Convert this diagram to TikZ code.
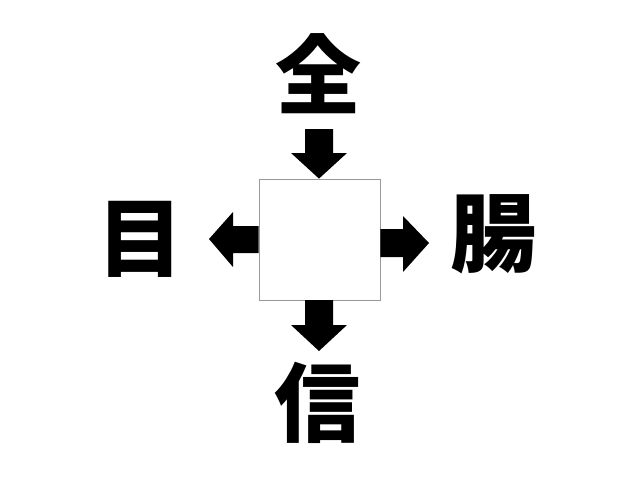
\documentclass[tikz,border=0pt]{standalone}
\usepackage{fontspec}
\newfontfamily\jp{Noto Sans CJK JP}
\begin{document}
\begin{tikzpicture}[x=1pt,y=-1pt,
  kanji/.style={font=\jp\bfseries\fontsize{86}{86}\selectfont, inner sep=0pt, anchor=center},
  fatarrow/.style={fill=black, draw=none}]
\useasboundingbox (0,0) rectangle (640,480);
\fill[white] (0,0) rectangle (640,480);
\node[draw=gray!80, line width=0.8pt, minimum width=121pt, minimum height=121pt, inner sep=0pt] (box) at (319.5,239.5) {};
\node[kanji] (top) at (318,74) {全};
\node[kanji] (left) at (140,239) {目};
\node[kanji] (right) at (493,234) {腸};
\node[kanji] (bottom) at (317,403) {信};
% top arrow
\fill[fatarrow] (305,129) -- (333,129) -- (333,153) -- (347,153) -- (box.north -| 319,0) -- (291,153) -- (305,153) -- cycle;
% bottom arrow
\fill[fatarrow] (305,300) -- (333,300) -- (333,325) -- (347,325) -- (319,351) -- (291,325) -- (305,325) -- cycle;
% left arrow
\fill[fatarrow] (box.west |- 0,226) -- (233,226) -- (233,212) -- (209,239) -- (233,267) -- (233,253) -- (box.west |- 0,253) -- cycle;
% right arrow
\fill[fatarrow] (box.east |- 0,229) -- (403,229) -- (403,216) -- (429,243) -- (403,272) -- (403,257) -- (box.east |- 0,257) -- cycle;
\end{tikzpicture}
\end{document}
